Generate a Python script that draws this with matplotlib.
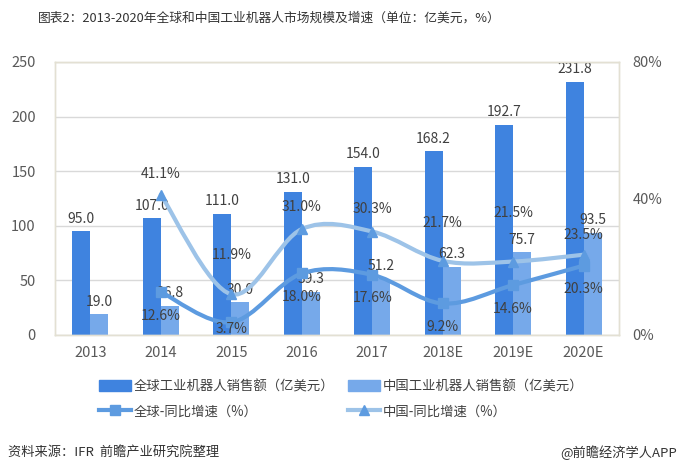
import matplotlib
matplotlib.use('Agg')
import matplotlib.pyplot as plt
import numpy as np
from matplotlib.path import Path
from matplotlib.patches import PathPatch, Patch
from matplotlib.lines import Line2D

plt.rcParams['font.family'] = ['Noto Sans CJK SC', 'DejaVu Sans']

##-------------------------------------------------------------
years = ['2013', '2014', '2015', '2016', '2017', '2018E', '2019E', '2020E']
global_sales = [95.0, 107.0, 111.0, 131.0, 154.0, 168.2, 192.7, 231.8]
china_sales = [19.0, 26.8, 30.0, 39.3, 51.2, 62.3, 75.7, 93.5]
# growth series start in 2014
global_growth = [12.6, 3.7, 18.0, 17.6, 9.2, 14.6, 20.3]
china_growth = [41.1, 11.9, 31.0, 30.3, 21.7, 21.5, 23.5]

# label offsets (points, + is up) for the growth labels, as placed in the original
global_off = [-17, -5, -17, -17, -17, -17, -17]
china_off = [15, 28, 16, 16, 27, 35, 14]

c_gbar = '#3f83df'
c_cbar = '#76a9ea'
c_gline = '#5d9be0'
c_cline = '#9dc3e8'
txt = '#404040'
grid = '#d9d9d9'


##-------------------------------------------------------------
def smooth_path(xs, ys):
    """Bezier path through the points, like the office 'smoothed line'."""
    n = len(xs)
    verts = [(xs[0], ys[0])]
    codes = [Path.MOVETO]
    for i in range(n - 1):
        a = i - 1 if i > 0 else i
        d = i + 2 if i + 2 < n else i + 1
        c1 = (xs[i] + (xs[i + 1] - xs[a]) / 6., ys[i] + (ys[i + 1] - ys[a]) / 6.)
        c2 = (xs[i + 1] - (xs[d] - xs[i]) / 6., ys[i + 1] - (ys[d] - ys[i]) / 6.)
        verts += [c1, c2, (xs[i + 1], ys[i + 1])]
        codes += [Path.CURVE4] * 3
    return Path(verts, codes)


##-------------------------------------------------------------
fig = plt.figure(figsize=(6.8, 4.73), dpi=100)
ax = fig.add_axes([0.081, 0.292, 0.829, 0.577])
ax2 = ax.twinx()

x = np.arange(len(years))
w = 0.255
ax.bar(x - w / 2, global_sales, w, color=c_gbar, zorder=2)
ax.bar(x + w / 2, china_sales, w, color=c_cbar, zorder=2)

for xi, v in zip(x, global_sales):
    ax.annotate('%.1f' % v, (xi - w / 2, v), xytext=(0, 4), textcoords='offset points',
                ha='center', va='bottom', fontsize=10, color=txt)
for xi, v in zip(x, china_sales):
    ax.annotate('%.1f' % v, (xi + w / 2, v), xytext=(0, 4), textcoords='offset points',
                ha='center', va='bottom', fontsize=10, color=txt)

ax.set_xlim(-0.5, len(years) - 0.5)
ax.set_ylim(0, 250)
ax.set_yticks([0, 50, 100, 150, 200, 250])
ax.set_xticks(x)
ax.set_xticklabels(years)
ax.yaxis.grid(True, color=grid, lw=1, zorder=0)
ax.set_axisbelow(True)
ax.tick_params(axis='both', length=0, labelsize=10.5, labelcolor='#595959')
ax.tick_params(axis='y', pad=14)
ax.tick_params(axis='x', pad=8)

# growth lines on the right axis
gx = x[1:]
ax2.set_ylim(0, 80)
ax2.set_yticks([0, 40, 80])
ax2.set_yticklabels(['0%', '40%', '80%'])
ax2.tick_params(axis='y', length=0, labelsize=10.5, labelcolor='#595959', pad=10)
ax2.add_patch(PathPatch(smooth_path(gx, global_growth), fill=False, ec=c_gline, lw=3,
                        capstyle='round', zorder=3))
ax2.add_patch(PathPatch(smooth_path(gx, china_growth), fill=False, ec=c_cline, lw=3,
                        capstyle='round', zorder=3))
ax2.plot(gx, global_growth, ls='none', marker='s', ms=7, color=c_gline, zorder=4)
ax2.plot(gx, china_growth, ls='none', marker='^', ms=7, color=c_gline, zorder=4)

for xi, v, o in zip(gx, global_growth, global_off):
    ax2.annotate('%.1f%%' % v, (xi, v), xytext=(0, o), textcoords='offset points',
                 ha='center', va='center', fontsize=10, color=txt, zorder=5)
for xi, v, o in zip(gx, china_growth, china_off):
    ax2.annotate('%.1f%%' % v, (xi, v), xytext=(0, o), textcoords='offset points',
                 ha='center', va='center', fontsize=10, color=txt, zorder=5)

for a in (ax, ax2):
    for s in a.spines.values():
        s.set_color('#e3e0d3')
        s.set_linewidth(1)

# legend
handles = [Patch(color=c_gbar),
           Line2D([], [], color=c_gline, lw=3, marker='s', ms=7),
           Patch(color=c_cbar),
           Line2D([], [], color=c_cline, lw=3, marker='^', ms=7, mfc=c_gline, mec=c_gline)]
labels = ['全球工业机器人销售额（亿美元）', '全球-同比增速（%）',
          '中国工业机器人销售额（亿美元）', '中国-同比增速（%）']
fig.legend(handles, labels, ncol=2, loc='center', bbox_to_anchor=(0.502, 0.157),
           frameon=False, fontsize=9.6, handlelength=2.4, handleheight=0.9,
           handletextpad=0.2, columnspacing=1.0, labelspacing=0.85, labelcolor='#404040')

fig.text(0.056, 0.962, '图表2：2013-2020年全球和中国工业机器人市场规模及增速（单位：亿美元，%）',
         ha='left', va='center', fontsize=9.2, color='#333333')
fig.text(0.012, 0.044, '资料来源：IFR  前瞻产业研究院整理', ha='left', va='center',
         fontsize=9.5, color='#333333')
fig.text(0.995, 0.044, '@前瞻经济学人APP', ha='right', va='center',
         fontsize=9.5, color='#333333')

plt.savefig('out.png', dpi=100)
